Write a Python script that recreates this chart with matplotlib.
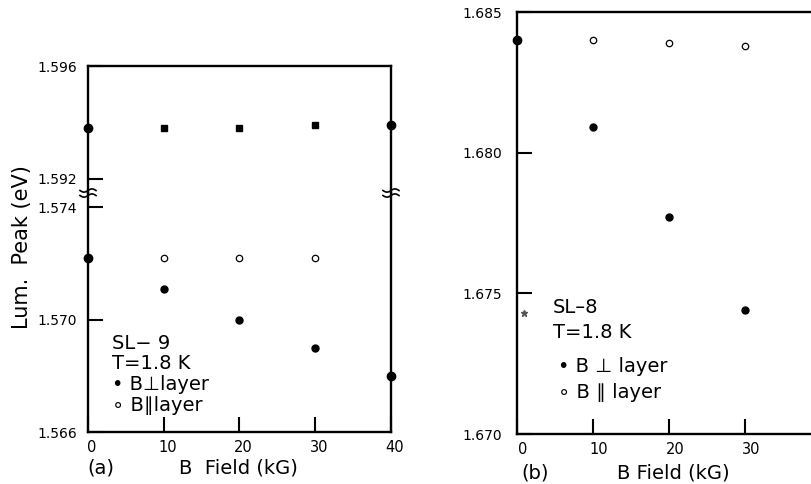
import numpy as np
import matplotlib.pyplot as plt
import matplotlib.transforms as mtransforms
from matplotlib.lines import Line2D

plt.rcParams['font.family'] = ['DejaVu Sans']

# panel (a): SL-9, broken energy axis
a_top_x = [10, 20, 30]
a_top_y = [1.5938, 1.5938, 1.5939]
a_top_end_x = [0, 40]
a_top_end_y = [1.5938, 1.5939]
a_perp_x = [0, 10, 20, 30, 40]
a_perp_y = [1.5722, 1.5711, 1.5700, 1.5690, 1.5680]
a_par_x = [10, 20, 30]
a_par_y = [1.5722, 1.5722, 1.5722]

# panel (b): SL-8
b_perp_x = [0, 10, 20, 30]
b_perp_y = [1.6840, 1.6809, 1.6777, 1.6744]
b_par_x = [10, 20, 30]
b_par_y = [1.6840, 1.6839, 1.6838]
b_stray_x = [0.9]
b_stray_y = [1.6743]

x_ticks = [0, 10, 20, 30, 40]
a_upper_ticks = [1.592, 1.596]
a_lower_ticks = [1.566, 1.570, 1.574]
b_ticks = [1.670, 1.675, 1.680, 1.685]

W, H = 811, 484
fig = plt.figure(figsize=(W / 100, H / 100), dpi=100)

ax_up = fig.add_axes([0.1085, 0.6012, 0.3736, 0.2624])
ax_lo = fig.add_axes([0.1085, 0.1074, 0.3736, 0.4938])
ax_b = fig.add_axes([0.6375, 0.1033, 0.3748, 0.8719])


def style(ax, ypad):
    for s in ax.spines.values():
        s.set_linewidth(1.7)
    ax.tick_params(direction='in', length=11, width=1.5, labelsize=10,
                   top=False, right=False)
    ax.tick_params(axis='y', pad=ypad)
    ax.tick_params(axis='x', pad=6, labelsize=10.5)
    ax.set_xlim(0, 40)


def shift_xlabels(ax, px):
    off = mtransforms.ScaledTranslation(px / 100, 0, fig.dpi_scale_trans)
    for lab in ax.get_xticklabels():
        lab.set_transform(lab.get_transform() + off)


filled = dict(ls='none', marker='o', ms=5, color='black')
edge = dict(ls='none', marker='o', ms=6, color='black', clip_on=False, zorder=5)
hollow = dict(ls='none', marker='o', ms=4.6, mfc='white', mec='black', mew=0.9)

# upper part of (a)
style(ax_up, 8)
ax_up.spines['bottom'].set_visible(False)
ax_up.set_ylim(1.5915, 1.596)
ax_up.set_yticks(a_upper_ticks, ['%.3f' % v for v in a_upper_ticks])
ax_up.set_xticks([])
ax_up.plot(a_top_x, a_top_y, ls='none', marker='s', ms=4.5, color='black')
ax_up.plot(a_top_end_x, a_top_end_y, **edge)

# lower part of (a)
style(ax_lo, 8)
ax_lo.spines['top'].set_visible(False)
ax_lo.set_ylim(1.566, 1.5745)
ax_lo.set_yticks(a_lower_ticks, ['%.3f' % v for v in a_lower_ticks])
ax_lo.set_xticks(x_ticks, [str(v) for v in x_ticks])
shift_xlabels(ax_lo, 4)
ax_lo.plot(a_perp_x[1:-1], a_perp_y[1:-1], **filled)
ax_lo.plot([a_perp_x[0], a_perp_x[-1]], [a_perp_y[0], a_perp_y[-1]], **edge)
ax_lo.plot(a_par_x, a_par_y, **hollow)

lines_a = ['SL\u2212 9', 'T=1.8 K', '\u2022 B\u22a5layer', '\u2218 B\u2225layer']
for txt, yy in zip(lines_a, [0.372, 0.285, 0.197, 0.113]):
    ax_lo.text(0.079, yy, txt, transform=ax_lo.transAxes, fontsize=14,
               va='center', ha='left')

# axis break marks on both spines of (a)
pos = ax_lo.get_position()
t = np.linspace(-1, 1, 30)
for xf in [pos.x0, pos.x1]:
    for dy in [-2.5, 2.5]:
        xs = xf + t * 8 / W
        ys = pos.y1 + (dy + 1.6 * np.sin(np.pi * t)) / H
        fig.add_artist(Line2D(xs, ys, color='black', lw=1.2))

# panel (b)
style(ax_b, 11)
ax_b.set_ylim(1.670, 1.685)
ax_b.set_yticks(b_ticks, ['%.3f' % v for v in b_ticks])
ax_b.set_xticks(x_ticks, [str(v) for v in x_ticks])
shift_xlabels(ax_b, 6)
ax_b.plot(b_perp_x[1:], b_perp_y[1:], **filled)
ax_b.plot(b_perp_x[:1], b_perp_y[:1], **edge)
ax_b.plot(b_par_x, b_par_y, **hollow)
ax_b.plot(b_stray_x, b_stray_y, ls='none', marker='*', ms=5, color='#555555')

ax_b.text(0.118, 0.2986, 'SL\u20138', transform=ax_b.transAxes, fontsize=14,
          va='center', ha='left')
ax_b.text(0.118, 0.2417, 'T=1.8 K', transform=ax_b.transAxes, fontsize=14,
          va='center', ha='left')
ax_b.text(0.135, 0.1588, '\u2022 B \u22a5 layer', transform=ax_b.transAxes,
          fontsize=14, va='center', ha='left')
ax_b.text(0.135, 0.0972, '\u2218 B \u2225 layer', transform=ax_b.transAxes,
          fontsize=14, va='center', ha='left')

fig.text(22 / W, 1 - 247 / H, 'Lum.  Peak (eV)', rotation=90, fontsize=15,
         ha='center', va='center')
fig.text(101 / W, 1 - 468 / H, '(a)', fontsize=14, ha='center', va='center')
fig.text(238 / W, 1 - 468 / H, 'B  Field (kG)', fontsize=14, ha='center', va='center')
fig.text(535 / W, 1 - 473 / H, '(b)', fontsize=14, ha='center', va='center')
fig.text(673 / W, 1 - 473 / H, 'B Field (kG)', fontsize=14, ha='center', va='center')

fig.savefig('out.png', dpi=100)
